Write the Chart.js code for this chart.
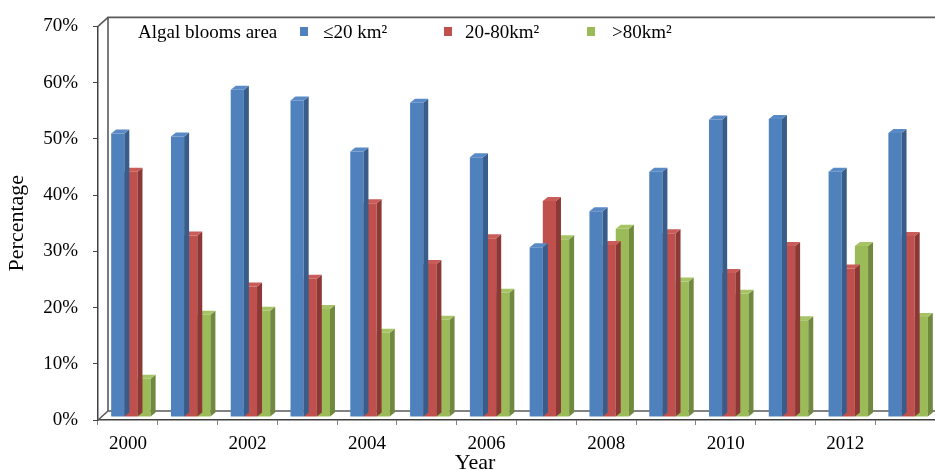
<!DOCTYPE html>
<html>
<head>
<meta charset="utf-8">
<script src="https://cdn.jsdelivr.net/npm/chart.js@4"></script>
<style>
  html, body { margin: 0; padding: 0; background: #ffffff; }
  #wrap { width: 935px; height: 470px; position: relative; }
</style>
</head>
<body>
<div id="wrap"><canvas id="chart"></canvas></div>
<script>
// Share of algal bloom events by bloom area, per year (%)
const years = ['2000', '2001', '2002', '2003', '2004', '2005', '2006',
               '2007', '2008', '2009', '2010', '2011', '2012', '2013'];
const areaSmall  = [50.4, 49.9, 58.2, 56.3, 47.2, 55.9, 46.2, 30.2, 36.6, 43.6, 52.9, 53.0, 43.6, 50.5];
const areaMedium = [43.6, 32.3, 23.2, 24.6, 38.0, 27.2, 31.8, 38.4, 30.6, 32.7, 25.6, 30.4, 26.4, 32.2];
const areaLarge  = [ 6.8, 18.2, 18.9, 19.2, 15.0, 17.3, 22.1, 31.6, 33.5, 24.1, 21.9, 17.2, 30.4, 17.8];
const seriesNames = ['\u226420 km\u00B2', '20-80km\u00B2', '>80km\u00B2'];
const yTicks = [0, 10, 20, 30, 40, 50, 60, 70];
const legendTitle = 'Algal blooms area';
const yTitle = 'Percentage';
const xTitle = 'Year';

const SERIF = '"Liberation Serif", "Times New Roman", serif';
const palette = [
  { front: '#4F81BD', side: '#385D8A', top: '#5A8AC6' },
  { front: '#C0504D', side: '#8C3836', top: '#C95B58' },
  { front: '#9BBB59', side: '#71893F', top: '#A6C466' }
];
const DEPTH_X = 5, DEPTH_Y = 4;      // bar extrusion
const SHIFT_X = 3, SHIFT_Y = -3;     // bars sit slightly back from the front edge
const WALL_X = 10, WALL_Y = 9;       // back wall offset

// Box-style frame: left wall and floor behind the bars
const framePlugin = {
  id: 'frame',
  beforeDatasetsDraw(chart) {
    const { ctx, chartArea: a } = chart;
    ctx.save();
    ctx.strokeStyle = '#5a5a5a';
    ctx.lineWidth = 1.6;
    ctx.beginPath();
    ctx.moveTo(chart.width + 5, a.top - WALL_Y);
    ctx.lineTo(a.left + WALL_X, a.top - WALL_Y);
    ctx.lineTo(a.left + WALL_X, a.bottom - WALL_Y);
    ctx.lineTo(chart.width + 5, a.bottom - WALL_Y);
    ctx.moveTo(a.left, a.top);
    ctx.lineTo(a.left + WALL_X, a.top - WALL_Y);
    ctx.moveTo(a.left, a.bottom);
    ctx.lineTo(a.left + WALL_X, a.bottom - WALL_Y);
    ctx.stroke();
    ctx.restore();
    // shift the bar layer back into the box
    ctx.save();
    ctx.translate(SHIFT_X, SHIFT_Y);
  },
  afterDatasetDraw(chart, args) {
    const { ctx } = chart;
    const col = palette[args.index];
    const meta = args.meta;
    meta.data.forEach(bar => {
      const p = bar.getProps(['x', 'y', 'base', 'width'], true);
      const l = p.x - p.width / 2, r = p.x + p.width / 2;
      const t = Math.min(p.y, p.base), b = Math.max(p.y, p.base);
      ctx.fillStyle = col.side;
      ctx.beginPath();
      ctx.moveTo(r, t);
      ctx.lineTo(r + DEPTH_X, t - DEPTH_Y);
      ctx.lineTo(r + DEPTH_X, b - DEPTH_Y);
      ctx.lineTo(r, b);
      ctx.closePath();
      ctx.fill();
      ctx.fillStyle = col.top;
      ctx.beginPath();
      ctx.moveTo(l, t);
      ctx.lineTo(l + DEPTH_X, t - DEPTH_Y);
      ctx.lineTo(r + DEPTH_X, t - DEPTH_Y);
      ctx.lineTo(r, t);
      ctx.closePath();
      ctx.fill();
    });
  },
  afterDatasetsDraw(chart) {
    chart.ctx.restore();
  }
};

// Inline legend inside the top of the plot box, plus the x-axis title
const legendPlugin = {
  id: 'inlineLegend',
  afterDraw(chart, args, opts) {
    const { ctx } = chart;
    ctx.save();
    ctx.font = '19px ' + SERIF;
    ctx.fillStyle = '#000';
    ctx.textBaseline = 'alphabetic';
    ctx.textAlign = 'left';
    ctx.fillText(legendTitle, opts.titleX, opts.baseline);
    chart.data.datasets.forEach((ds, i) => {
      const bx = opts.boxX[i];
      ctx.fillStyle = ds.backgroundColor;
      ctx.fillRect(bx, opts.baseline - 11, 8, 9);
      ctx.fillStyle = '#000';
      ctx.fillText(ds.label, bx + opts.textGap[i], opts.baseline);
    });
    ctx.font = '22px ' + SERIF;
    ctx.textAlign = 'center';
    ctx.fillText(xTitle, opts.xTitleX, opts.xTitleY);
    ctx.restore();
  }
};

const makeSet = (label, data, i) => ({
  label, data,
  backgroundColor: palette[i].front,
  borderWidth: 0,
  categoryPercentage: 0.66,
  barPercentage: 1.0,
  clip: false
});

new Chart(document.getElementById('chart'), {
  type: 'bar',
  data: {
    labels: years,
    datasets: [
      makeSet(seriesNames[0], areaSmall, 0),
      makeSet(seriesNames[1], areaMedium, 1),
      makeSet(seriesNames[2], areaLarge, 2)
    ]
  },
  options: {
    responsive: true,
    maintainAspectRatio: false,
    animation: false,
    layout: { padding: { top: 24, right: 0, left: 0, bottom: 0 } },
    plugins: {
      legend: { display: false },
      tooltip: { enabled: false },
      inlineLegend: {
        titleX: 138, baseline: 38,
        boxX: [300, 444, 587],
        textGap: [23, 21, 25],
        xTitleX: 475, xTitleY: 469
      }
    },
    scales: {
      x: {
        afterFit: s => { s.height = 50; },
        grid: {
          display: true, drawOnChartArea: false, drawTicks: true,
          tickLength: 5, offset: true, color: '#7f7f7f', lineWidth: 1
        },
        border: { display: true, color: '#404040', width: 1.5 },
        ticks: {
          autoSkip: false, maxRotation: 0, padding: 8, color: '#000',
          font: { family: SERIF, size: 19 },
          callback: (v, i) => (i % 2 === 0 ? years[i] : '')
        }
      },
      y: {
        min: yTicks[0], max: yTicks[yTicks.length - 1],
        afterFit: s => { s.width = 98; },
        afterBuildTicks: s => { s.ticks = yTicks.map(v => ({ value: v })); },
        grid: {
          display: true, drawOnChartArea: false, drawTicks: true,
          tickLength: 5, color: '#404040', lineWidth: 1
        },
        border: { display: true, color: '#404040', width: 1.5 },
        ticks: {
          padding: 15, color: '#000',
          font: { family: SERIF, size: 19 },
          callback: v => v + '%'
        },
        title: {
          display: true, text: yTitle, color: '#000',
          font: { family: SERIF, size: 22 },
          padding: { top: 4, bottom: 0 }
        }
      }
    }
  },
  plugins: [framePlugin, legendPlugin]
});
</script>
</body>
</html>
